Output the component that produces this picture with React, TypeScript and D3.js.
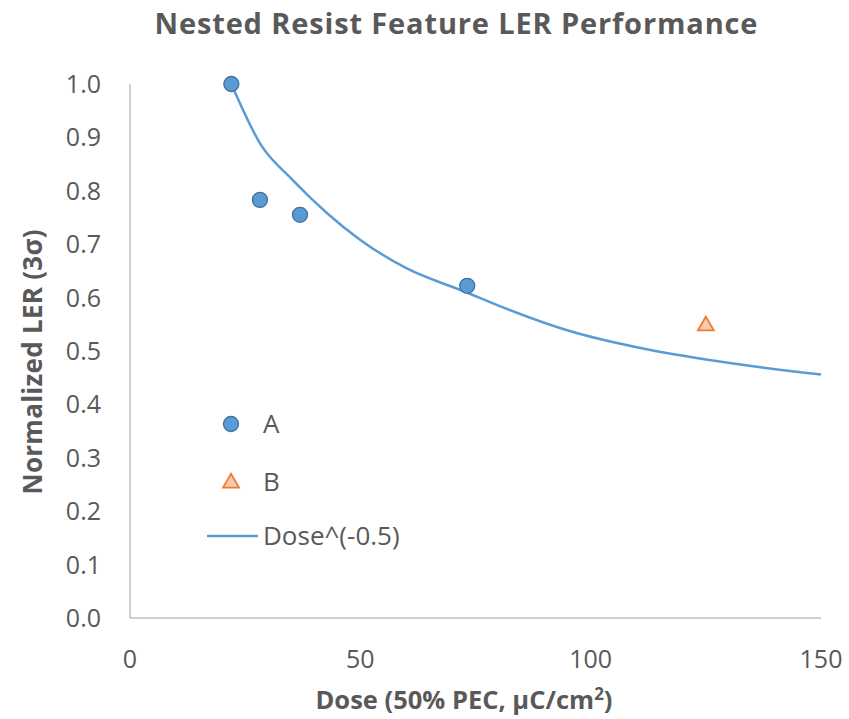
import React from "react";
import * as d3 from "d3";

const seriesADose = [22, 28.2, 36.9, 73.2];
const seriesALER = [1.0, 0.783, 0.755, 0.622];
const seriesBDose = [125];
const seriesBLER = [0.549];
const fitDose = [22, 28.5, 35, 50, 60, 73, 80, 96, 110, 125, 150];
const fitLER = [1.0, 0.885, 0.823, 0.708, 0.655, 0.61, 0.585, 0.536, 0.507, 0.484, 0.456];
const xTicks = [0, 50, 100, 150];
const yTicks = [0, 0.1, 0.2, 0.3, 0.4, 0.5, 0.6, 0.7, 0.8, 0.9, 1.0];
const legendLabels = ["A", "B", "Dose^(-0.5)"];

const W = 849;
const H = 719;
const FONT = "'Open Sans', 'Noto Sans', sans-serif";
const TEXT = "#595959";
const AXIS = "#BFBFBF";
const BLUE = "#5B9BD5";
const BLUE_DARK = "#41719C";
const ORANGE = "#ED7D31";
const ORANGE_LIGHT = "#F8CBAD";

export default function App() {
  const x = d3.scaleLinear().domain([0, 150]).range([130, 821]);
  const y = d3.scaleLinear().domain([0, 1]).range([618, 84]);

  const fitPts: [number, number][] = fitDose.map((d, i) => [d, fitLER[i]]);
  const line = d3
    .line<[number, number]>()
    .x((d) => x(d[0]))
    .y((d) => y(d[1]))
    .curve(d3.curveMonotoneX);

  const tri = d3.symbol().type(d3.symbolTriangle).size(110);

  const legX = 231;
  const legY = [424, 482, 536];

  return (
    <svg
      width={W}
      height={H}
      style={{ position: "absolute", left: 0, top: 0, background: "#fff" }}
      fontFamily={FONT}
    >
      <text
        x={456}
        y={34}
        textAnchor="middle"
        fontSize={29}
        fontWeight="bold"
        fill={TEXT}
        textLength={603}
        lengthAdjust="spacing"
      >
        Nested Resist Feature LER Performance
      </text>

      {/* axes */}
      <line x1={x(0)} x2={x(0)} y1={y(1)} y2={y(0)} stroke={AXIS} strokeWidth={1.5} />
      <line x1={x(0)} x2={x(150)} y1={y(0)} y2={y(0)} stroke={AXIS} strokeWidth={1.5} />

      {yTicks.map((t) => (
        <text
          key={"y" + t}
          x={101}
          y={y(t)}
          dy="0.36em"
          textAnchor="end"
          fontSize={25}
          fill={TEXT}
        >
          {d3.format(".1f")(t)}
        </text>
      ))}
      {xTicks.map((t) => (
        <text
          key={"x" + t}
          x={x(t)}
          y={668}
          textAnchor="middle"
          fontSize={25}
          fill={TEXT}
        >
          {t}
        </text>
      ))}

      <text
        x={464}
        y={709}
        textAnchor="middle"
        fontSize={25.5}
        fontWeight="bold"
        fill={TEXT}
      >
        Dose (50% PEC, µC/cm<tspan dy={-9} fontSize={17}>2</tspan>
        <tspan dy={9}>)</tspan>
      </text>
      <text
        transform={`translate(42,362) rotate(-90)`}
        textAnchor="middle"
        fontSize={26}
        fontWeight="bold"
        fill={TEXT}
        textLength={265}
        lengthAdjust="spacing"
      >
        Normalized LER (3σ)
      </text>

      {/* fit line */}
      <path d={line(fitPts) || ""} fill="none" stroke={BLUE} strokeWidth={2.5} />

      {/* series A */}
      {seriesADose.map((d, i) => (
        <circle
          key={"a" + i}
          cx={x(d)}
          cy={y(seriesALER[i])}
          r={7.5}
          fill={BLUE}
          stroke={BLUE_DARK}
          strokeWidth={1.3}
        />
      ))}
      {/* series B */}
      {seriesBDose.map((d, i) => (
        <path
          key={"b" + i}
          d={tri() || ""}
          transform={`translate(${x(d)},${y(seriesBLER[i]) + 1})`}
          fill={ORANGE_LIGHT}
          stroke={ORANGE}
          strokeWidth={1.8}
        />
      ))}

      {/* legend */}
      <circle cx={legX} cy={legY[0]} r={7.5} fill={BLUE} stroke={BLUE_DARK} strokeWidth={1.3} />
      <path
        d={tri() || ""}
        transform={`translate(${legX},${legY[1] + 1})`}
        fill={ORANGE_LIGHT}
        stroke={ORANGE}
        strokeWidth={1.8}
      />
      <line x1={207} x2={258} y1={legY[2]} y2={legY[2]} stroke={BLUE} strokeWidth={2.5} />
      {legendLabels.map((l, i) => (
        <text
          key={l}
          x={263}
          y={legY[i]}
          dy="0.36em"
          fontSize={26}
          fill={TEXT}
        >
          {l}
        </text>
      ))}
    </svg>
  );
}
